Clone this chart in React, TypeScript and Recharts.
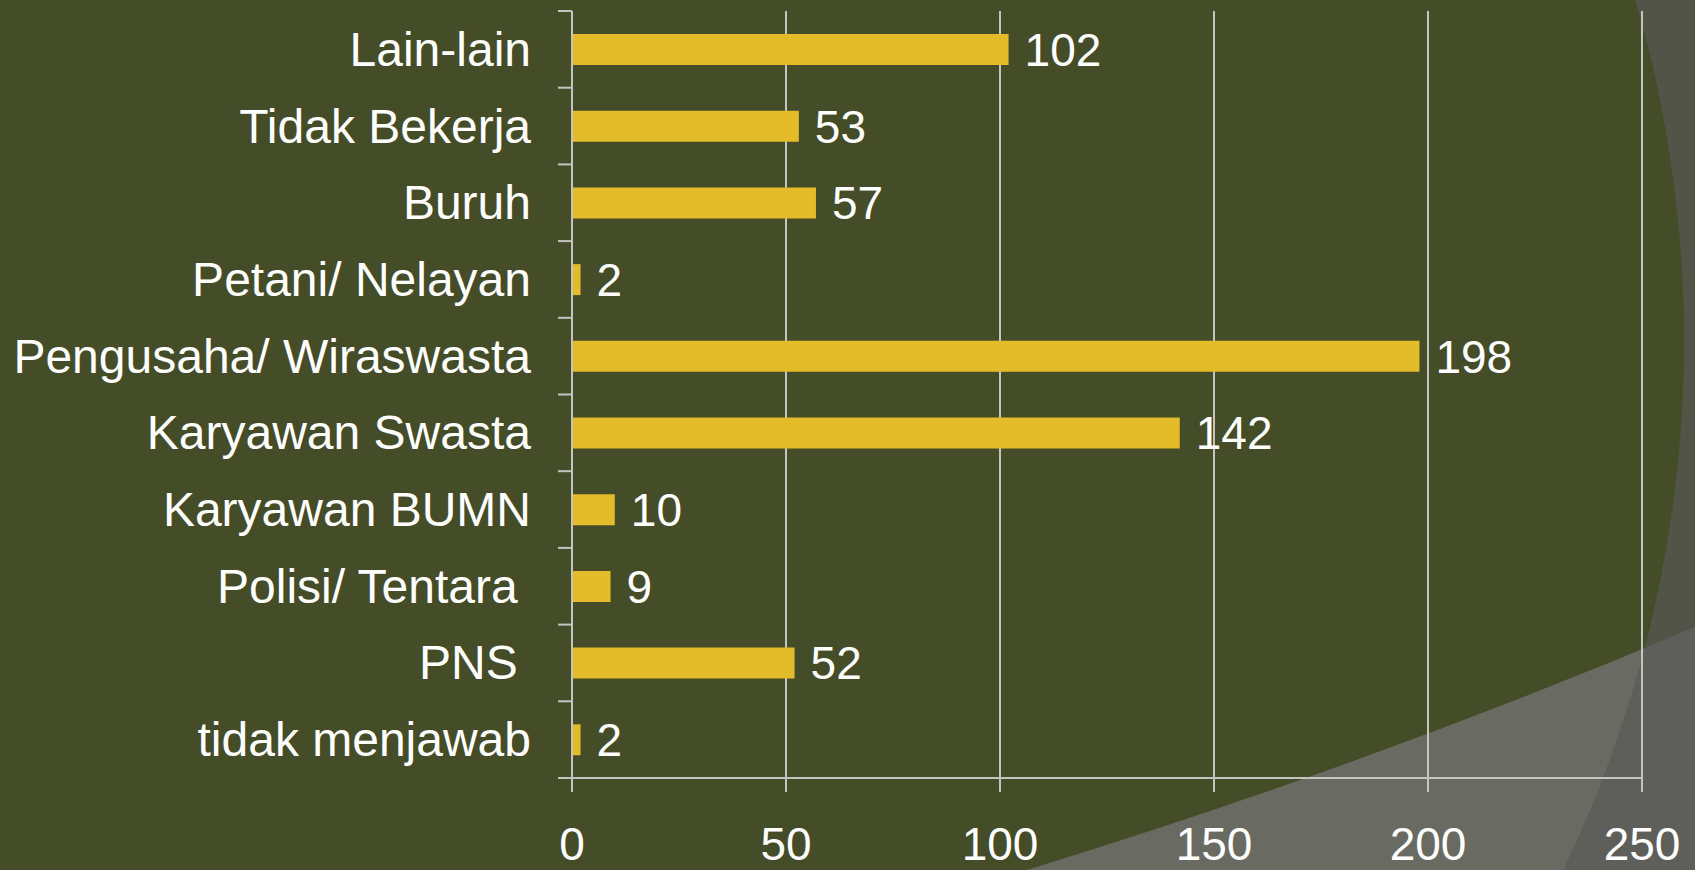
import React from 'react';
import { BarChart, Bar, XAxis, YAxis, CartesianGrid, LabelList } from 'recharts';

const categories = [
  'Lain-lain',
  'Tidak Bekerja',
  'Buruh',
  'Petani/ Nelayan',
  'Pengusaha/ Wiraswasta',
  'Karyawan Swasta',
  'Karyawan BUMN',
  'Polisi/ Tentara\u00a0',
  'PNS\u00a0',
  'tidak menjawab',
];
const values = [102, 53, 57, 2, 198, 142, 10, 9, 52, 2];
const xTicks = [0, 50, 100, 150, 200, 250];

const data = categories.map((c, i) => ({ name: c, value: values[i] }));

const W = 1695;
const H = 870;
const M_TOP = 11;
const M_RIGHT = 53;
const X_AXIS_H = 92;
const Y_AXIS_W = 572;
const PLOT_H = H - M_TOP - X_AXIS_H;
const BAND = PLOT_H / categories.length;
const TICK_SIZE = 14;
const TICK_MARGIN = 27;
const AXIS_COLOR = '#C4C4C0';
const FONT = '"Liberation Sans", Arial, sans-serif';

function CatTick(props: any) {
  const { x, y, payload, index } = props;
  const ax = x + TICK_MARGIN + TICK_SIZE;
  const half = BAND / 2;
  const isLast = index === categories.length - 1;
  return (
    <g>
      <line x1={ax - TICK_SIZE} x2={ax} y1={y - half} y2={y - half} stroke={AXIS_COLOR} strokeWidth={2} />
      {isLast && (
        <line x1={ax - TICK_SIZE} x2={ax} y1={y + half} y2={y + half} stroke={AXIS_COLOR} strokeWidth={2} />
      )}
      <text x={x} y={y} textAnchor="end" dominantBaseline="central" fill="#FFFFFF" fontSize={48} fontFamily={FONT}>
        {payload.value}
      </text>
    </g>
  );
}

const cx = 465;
const cy = 341;
const r = 1219;

export default function App() {
  return (
    <div style={{ position: 'fixed', left: 0, top: 0, width: W, height: H, overflow: 'hidden' }}>
      <svg width={W} height={H} style={{ position: 'absolute', left: 0, top: 0 }}>
        <rect x={0} y={0} width={W} height={H} fill="#454C28" />
        <path d="M1027,870 Q1379,761.5 1695,627 L1695,870 Z" fill="#696A61" />
        <path
          d={`M0,0 H${W} V${H} H0 Z M${cx - r},${cy} a${r},${r} 0 1,0 ${2 * r},0 a${r},${r} 0 1,0 ${-2 * r},0 Z`}
          fillRule="evenodd"
          fill="rgb(88,88,86)"
          fillOpacity={0.66}
        />
      </svg>
      <div style={{ position: 'absolute', left: 0, top: 0 }}>
        <BarChart
          width={W}
          height={H}
          data={data}
          layout="vertical"
          margin={{ top: M_TOP, right: M_RIGHT, bottom: 0, left: 0 }}
          barCategoryGap="30%"
        >
          <CartesianGrid horizontal={false} vertical={true} stroke={AXIS_COLOR} strokeWidth={2} />
          <XAxis
            type="number"
            domain={[0, 250]}
            ticks={xTicks}
            height={X_AXIS_H}
            axisLine={{ stroke: AXIS_COLOR, strokeWidth: 2 }}
            tickLine={{ stroke: AXIS_COLOR, strokeWidth: 2 }}
            tickSize={TICK_SIZE}
            tickMargin={35}
            tick={{ fill: '#FFFFFF', fontSize: 46, fontFamily: FONT }}
            interval={0}
          />
          <YAxis
            type="category"
            dataKey="name"
            width={Y_AXIS_W}
            axisLine={{ stroke: AXIS_COLOR, strokeWidth: 2 }}
            tickLine={false}
            tickSize={TICK_SIZE}
            tickMargin={TICK_MARGIN}
            tick={<CatTick />}
            interval={0}
          />
          <Bar dataKey="value" fill="#E4BC2A" isAnimationActive={false}>
            <LabelList
              dataKey="value"
              position="right"
              offset={16}
              fill="#FFFFFF"
              fontSize={46}
              fontFamily={FONT}
            />
          </Bar>
        </BarChart>
      </div>
    </div>
  );
}
